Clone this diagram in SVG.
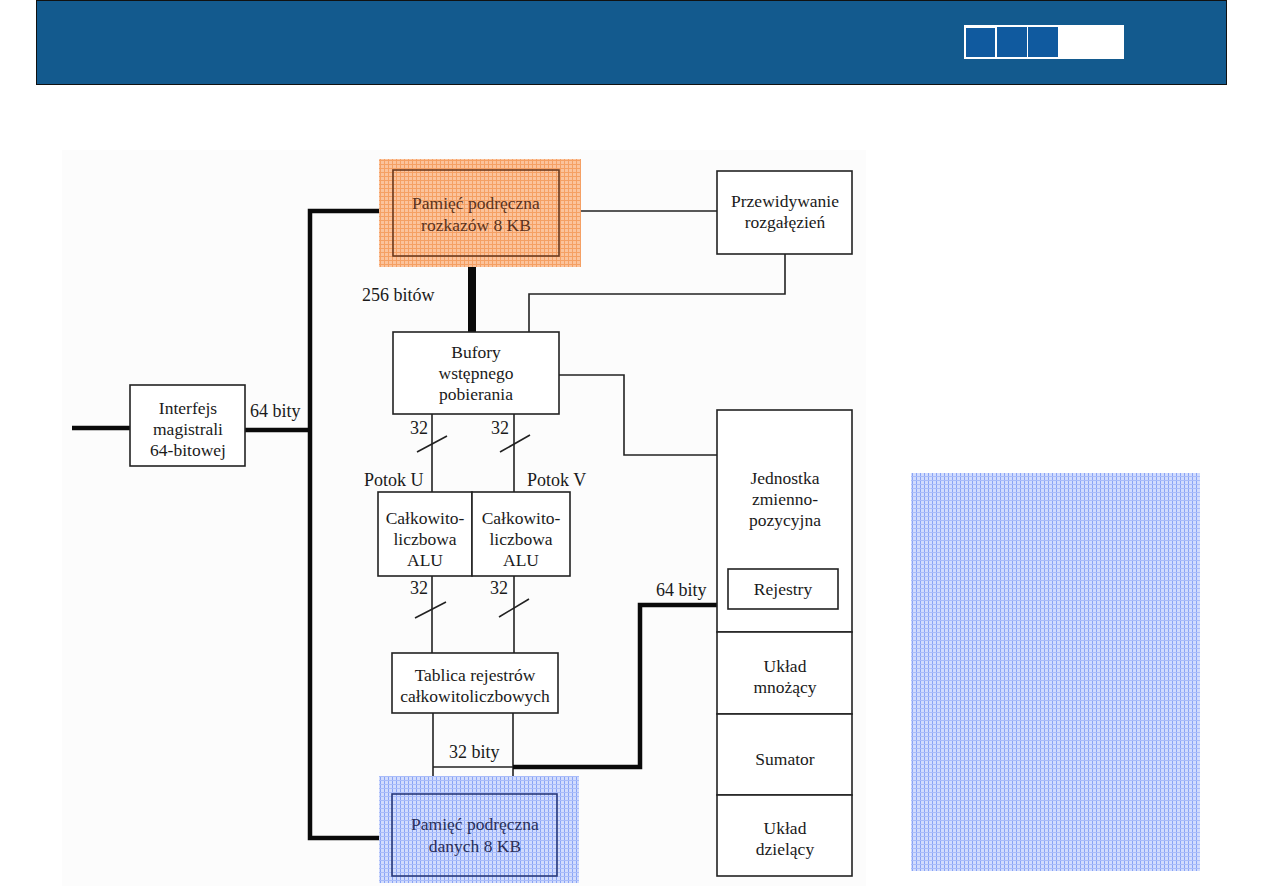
<svg xmlns="http://www.w3.org/2000/svg" width="1263" height="893" viewBox="0 0 1263 893">
<defs>
<pattern id="gridO" width="4" height="4" patternUnits="userSpaceOnUse">
<rect width="4" height="4" fill="#fbc39c"/>
<rect x="0" y="0" width="1" height="4" fill="#f5a064"/>
<rect x="0" y="0" width="4" height="1" fill="#f5a064"/>
</pattern>
<pattern id="gridB" width="4" height="4" patternUnits="userSpaceOnUse">
<rect width="4" height="4" fill="#d2dcfd"/>
<rect x="0" y="0" width="1" height="4" fill="#89a4f6"/>
<rect x="0" y="0" width="4" height="1" fill="#a9bcf9"/>
</pattern>
<style>
.box{fill:#fff;stroke:#222;stroke-width:1.6}
.t{font-family:"Liberation Serif","DejaVu Serif",serif;font-size:17.5px;fill:#1a1a1a;text-anchor:middle}
.tl{font-family:"Liberation Serif","DejaVu Serif",serif;font-size:18px;fill:#1a1a1a}
.thin{fill:none;stroke:#222;stroke-width:1.6}
.thick{fill:none;stroke:#0a0a0a;stroke-width:4.5}
</style>
</defs>
<rect width="1263" height="893" fill="#fff"/>
<g id="header">
<rect x="36.5" y="0.5" width="1190" height="84" fill="#135a8e" stroke="#111" stroke-width="1"/>
<rect x="964" y="25" width="160" height="34" fill="#fff"/>
<rect x="966" y="28" width="29" height="29" fill="#105a9f"/>
<rect x="997" y="27" width="30" height="30" fill="#105a9f"/>
<rect x="1028" y="27" width="30" height="30" fill="#105a9f"/>
</g>
<rect x="62" y="150" width="804" height="736" fill="#fcfcfc"/>
<rect x="911" y="473" width="289" height="398" fill="url(#gridB)"/>
<g id="connectors">
<path class="thick" d="M72 428 H130"/>
<path class="thick" d="M245 430 H310"/>
<path class="thick" d="M393 211 H310 V838 H393"/>
<path d="M472 256 V332" fill="none" stroke="#0a0a0a" stroke-width="8"/>
<path class="thin" d="M559 211 H717"/>
<path class="thin" d="M785 254 V294 H529 V332"/>
<path class="thin" d="M559 375 H624 V455 H717"/>
<path class="thin" d="M432 414 V492 M514 414 V492"/>
<path class="thin" d="M417 452 L447 436 M500 452 L530 435"/>
<path class="thin" d="M432 576 V653 M514 576 V653"/>
<path class="thin" d="M415 618 L446 602 M499 617 L529 599"/>
<path class="thin" d="M433 713 V795 M513 713 V795 M433 767 H513"/>
<path class="thick" d="M513 767 H640 V605 H717"/>
</g>
<g id="labels">
<text class="tl" x="362" y="301">256 bitów</text>
<text class="tl" x="250" y="417">64 bity</text>
<text class="tl" x="410" y="434">32</text>
<text class="tl" x="491" y="434">32</text>
<text class="tl" x="364" y="486">Potok U</text>
<text class="tl" x="527" y="486">Potok V</text>
<text class="tl" x="410" y="594">32</text>
<text class="tl" x="490" y="594">32</text>
<text class="tl" x="656" y="596">64 bity</text>
<text class="tl" x="449" y="758">32 bity</text>
</g>
<g id="icache">
<rect x="379" y="159" width="202" height="108" fill="url(#gridO)"/>
<rect x="393" y="170" width="166" height="86" fill="none" stroke="#6b3a1f" stroke-width="1.6"/>
<text class="t" x="476" y="209" style="fill:#5a3320">Pamięć podręczna</text>
<text class="t" x="476" y="231" style="fill:#5a3320">rozkazów 8 KB</text>
</g>
<g id="branch">
<rect class="box" x="717" y="171" width="135" height="83"/>
<text class="t" x="785" y="207">Przewidywanie</text>
<text class="t" x="785" y="228">rozgałęzień</text>
</g>
<g id="interface">
<rect class="box" x="130" y="385" width="115" height="81"/>
<text class="t" x="188" y="414">Interfejs</text>
<text class="t" x="188" y="435">magistrali</text>
<text class="t" x="188" y="456">64-bitowej</text>
</g>
<g id="prefetch">
<rect class="box" x="393" y="332" width="166" height="82"/>
<text class="t" x="476" y="358">Bufory</text>
<text class="t" x="476" y="379">wstępnego</text>
<text class="t" x="476" y="400">pobierania</text>
</g>
<g id="aluU">
<rect class="box" x="378" y="492" width="94" height="84"/>
<text class="t" x="425" y="524">Całkowito-</text>
<text class="t" x="425" y="545">liczbowa</text>
<text class="t" x="425" y="566">ALU</text>
</g>
<g id="aluV">
<rect class="box" x="472" y="492" width="98" height="84"/>
<text class="t" x="521" y="524">Całkowito-</text>
<text class="t" x="521" y="545">liczbowa</text>
<text class="t" x="521" y="566">ALU</text>
</g>
<g id="regfile">
<rect class="box" x="392" y="653" width="166" height="60"/>
<text class="t" x="475" y="681">Tablica rejestrów</text>
<text class="t" x="475" y="702">całkowitoliczbowych</text>
</g>
<g id="dcache">
<rect x="379" y="776" width="200" height="107" fill="url(#gridB)"/>
<rect x="392" y="794" width="165" height="82" fill="none" stroke="#2a3a7a" stroke-width="1.6"/>
<text class="t" x="475" y="830" style="fill:#2a2f5a">Pamięć podręczna</text>
<text class="t" x="475" y="852" style="fill:#2a2f5a">danych 8 KB</text>
</g>
<g id="fpu">
<rect class="box" x="717" y="410" width="135" height="222"/>
<text class="t" x="785" y="484">Jednostka</text>
<text class="t" x="785" y="505">zmienno-</text>
<text class="t" x="785" y="526">pozycyjna</text>
<rect class="box" x="728" y="569" width="110" height="40"/>
<text class="t" x="783" y="595">Rejestry</text>
</g>
<g id="mul">
<rect class="box" x="717" y="632" width="135" height="82"/>
<text class="t" x="785" y="672">Układ</text>
<text class="t" x="785" y="693">mnożący</text>
</g>
<g id="add">
<rect class="box" x="717" y="714" width="135" height="81"/>
<text class="t" x="785" y="765">Sumator</text>
</g>
<g id="div">
<rect class="box" x="717" y="795" width="135" height="81"/>
<text class="t" x="785" y="834">Układ</text>
<text class="t" x="785" y="855">dzielący</text>
</g>
</svg>
